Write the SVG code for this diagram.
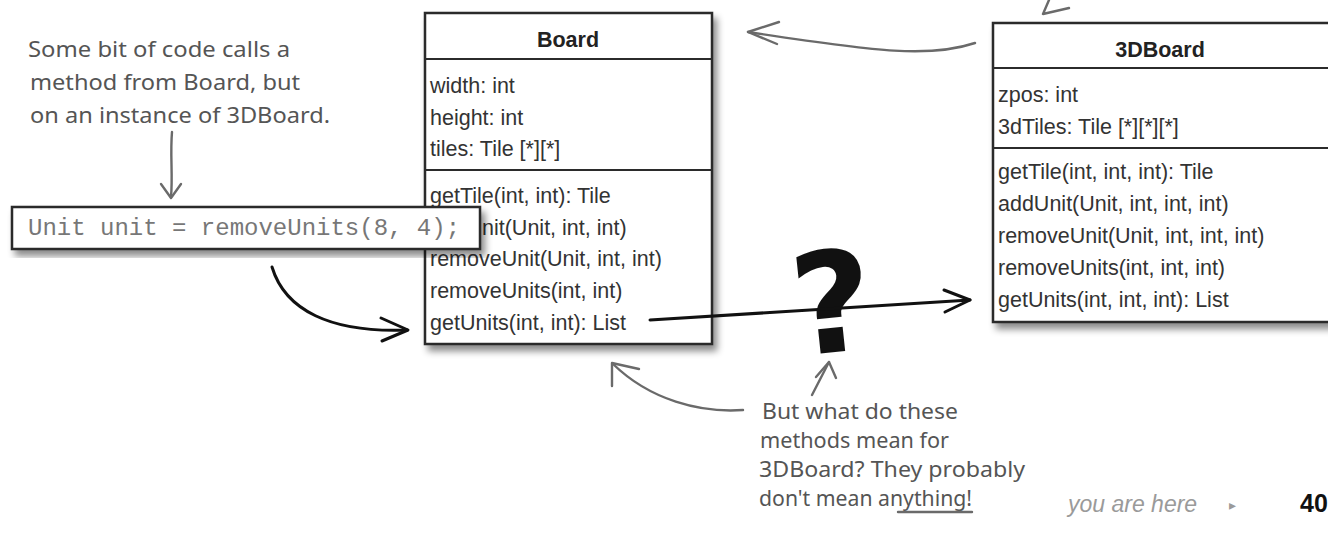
<svg xmlns="http://www.w3.org/2000/svg" width="1328" height="540" viewBox="0 0 1328 540">
<defs>
  <filter id="sh" x="-5%" y="-5%" width="115%" height="125%">
    <feDropShadow dx="4" dy="6" stdDeviation="3.5" flood-color="#000" flood-opacity="0.45"/>
  </filter>
  <style>
    .box{fill:#fff;stroke:#2b2b2b;stroke-width:2.5}
    .div{stroke:#2b2b2b;stroke-width:2.2}
    .uml{font-family:"Liberation Sans",Arial,sans-serif;font-size:21.5px;fill:#333}
    .title{font-weight:bold;text-anchor:middle;fill:#222}
    .code{font-family:"Liberation Mono","Courier New",monospace;font-size:24px;fill:#777}
    .hand{font-family:"Noto Sans","DejaVu Sans",sans-serif;font-size:21px;fill:#555}
    .blk{fill:none;stroke:#111;stroke-width:3;stroke-linecap:round;stroke-linejoin:round}
    .gry{fill:none;stroke:#6a6a6a;stroke-width:2.4;stroke-linecap:round;stroke-linejoin:round}
  </style>
</defs>
<rect width="1328" height="540" fill="#fff"/>

<g id="board">
  <rect class="box" x="425" y="13" width="287" height="331" filter="url(#sh)"/>
  <line class="div" x1="425" y1="59" x2="712" y2="59"/>
  <line class="div" x1="425" y1="170" x2="712" y2="170"/>
  <text class="uml title" x="568" y="47">Board</text>
  <text class="uml" x="430" y="93">width: int</text>
  <text class="uml" x="430" y="125">height: int</text>
  <text class="uml" x="430" y="156">tiles: Tile [*][*]</text>
  <text class="uml" x="430" y="203">getTile(int, int): Tile</text>
  <text class="uml" x="482" y="235">nit(Unit, int, int)</text>
  <text class="uml" x="430" y="266">removeUnit(Unit, int, int)</text>
  <text class="uml" x="430" y="298">removeUnits(int, int)</text>
  <text class="uml" x="430" y="330">getUnits(int, int): List</text>
</g>

<g id="board3d">
  <rect class="box" x="993" y="23" width="340" height="299" filter="url(#sh)"/>
  <line class="div" x1="993" y1="68" x2="1333" y2="68"/>
  <line class="div" x1="993" y1="148" x2="1333" y2="148"/>
  <text class="uml title" x="1160" y="57">3DBoard</text>
  <text class="uml" x="998" y="102">zpos: int</text>
  <text class="uml" x="998" y="134">3dTiles: Tile [*][*][*]</text>
  <text class="uml" x="998" y="179">getTile(int, int, int): Tile</text>
  <text class="uml" x="998" y="211">addUnit(Unit, int, int, int)</text>
  <text class="uml" x="998" y="243">removeUnit(Unit, int, int, int)</text>
  <text class="uml" x="998" y="275">removeUnits(int, int, int)</text>
  <text class="uml" x="998" y="307">getUnits(int, int, int): List</text>
</g>

<g id="codebox">
  <rect class="box" x="12" y="207" width="468" height="42" filter="url(#sh)"/>
  <text class="code" x="28" y="235">Unit unit = removeUnits(8, 4);</text>
</g>

<g id="question">
  <text x="832" y="352" text-anchor="middle" transform="rotate(-6 832 300)" font-family="'DejaVu Sans',sans-serif" font-weight="bold" font-size="140" fill="#111">?</text>
</g>

<g id="connectors">
  <path class="gry" d="M172,132 C170,155 173,175 171,197"/>
  <path class="gry" d="M161,184 L171,198 L181,184"/>
  <path class="blk" d="M272,267 C285,310 330,333 407,330"/>
  <path class="blk" d="M381,318 L408,330 L382,341"/>
  <path class="blk" d="M650,320 L970,300"/>
  <path class="blk" d="M944,290 L970,300 L945,312"/>
  <path class="gry" d="M975,43 C930,58 880,52 748,32"/>
  <path class="gry" d="M779,22 L748,32 L777,44"/>
  <path class="gry" d="M812,395 L829,362"/>
  <path class="gry" d="M816,377 L829,362 L836,378"/>
  <path class="gry" d="M743,410 C700,413 650,400 613,364"/>
  <path class="gry" d="M612,386 L612,363 L639,369"/>
  <path class="gry" d="M1049,0 L1043,14 L1069,8"/>
</g>

<g id="note-top">
  <text class="hand" x="28" y="57" textLength="262" lengthAdjust="spacingAndGlyphs">Some bit of code calls a</text>
  <text class="hand" x="30" y="90" textLength="270" lengthAdjust="spacingAndGlyphs">method from Board, but</text>
  <text class="hand" x="30" y="123" textLength="300" lengthAdjust="spacingAndGlyphs">on an instance of 3DBoard.</text>
</g>

<g id="note-bottom">
  <text class="hand" x="762" y="419" textLength="196" lengthAdjust="spacingAndGlyphs">But what do these</text>
  <text class="hand" x="760" y="448" textLength="189" lengthAdjust="spacingAndGlyphs">methods mean for</text>
  <text class="hand" x="759" y="477" textLength="266" lengthAdjust="spacingAndGlyphs">3DBoard? They probably</text>
  <text class="hand" x="759" y="506" textLength="213" lengthAdjust="spacingAndGlyphs">don't mean anything!</text>
  <line class="gry" x1="898" y1="512" x2="972" y2="512" stroke-width="2"/>
</g>

<g id="footer">
  <text x="1068" y="512" font-family="'Liberation Sans',Arial,sans-serif" font-style="italic" font-size="23" fill="#9a9a9a">you are here</text>
  <text x="1229" y="510" font-family="'DejaVu Sans',sans-serif" font-size="14" fill="#9a9a9a">▸</text>
  <text x="1300" y="512" font-family="'Liberation Sans',Arial,sans-serif" font-weight="bold" font-size="25" fill="#111">40</text>
</g>
</svg>
